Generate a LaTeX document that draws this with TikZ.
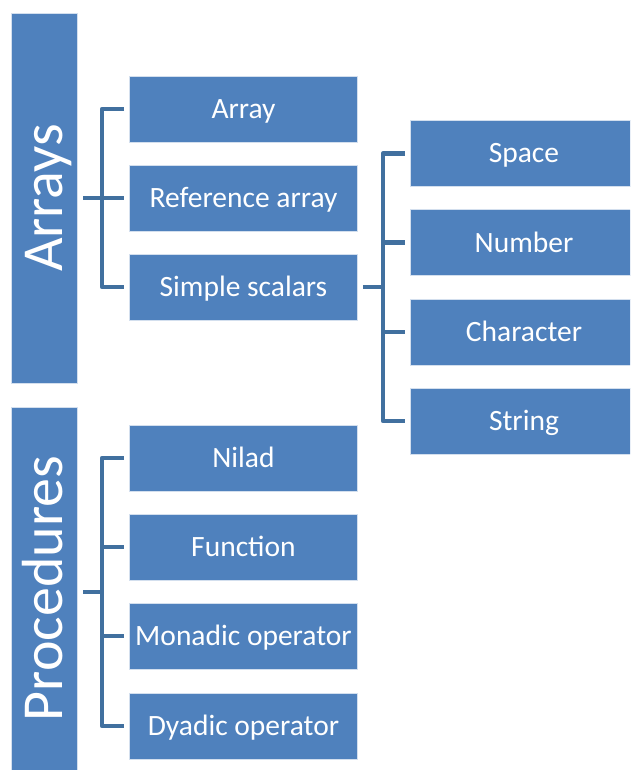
\documentclass[tikz,border=0pt]{standalone}
\usepackage{fontspec}
\setmainfont{Carlito}
\definecolor{boxblue}{HTML}{4F81BD}
\definecolor{linkblue}{HTML}{41709F}
\begin{document}
\begin{tikzpicture}[x=1pt,y=-1pt,
  item/.style={rectangle, fill=boxblue, draw=white!75!boxblue, line width=0.8pt,
    minimum width=228pt, minimum height=66pt, inner sep=0pt, text=white,
    font=\fontsize{29.5}{31}\selectfont, text height=19pt, text depth=0pt},
  group/.style={rectangle, fill=boxblue, draw=white!75!boxblue, line width=0.8pt,
    minimum height=66pt, inner sep=0pt, text=white, rotate=90,
    font=\fontsize{58}{60}\selectfont, text height=37pt, text depth=0pt},
  conn/.style={draw=linkblue, line width=4.5pt, line join=round}]
\useasboundingbox (0,0) rectangle (630,770);
\clip (0,0) rectangle (630,770);

% category panels
\node[group, minimum width=370pt] (arrays) at (44,198) {Arrays};
\node[group, minimum width=363pt] (procs) at (44,588.5) {Procedures};

% array kinds
\node[item] (arr)  at (243.5,109) {Array};
\node[item] (ref)  at (243.5,198) {Reference array};
\node[item] (simp) at (243.5,287) {Simple scalars};

% scalar kinds
\node[item] (space) at (524,153.5) {Space};
\node[item] (num)   at (524,242.5) {Number};
\node[item] (chr)   at (524,332)   {Character};
\node[item] (str)   at (524,421)   {String};

% procedure kinds
\node[item] (nilad) at (243.5,458) {Nilad};
\node[item] (fn)    at (243.5,547) {Function};
\node[item] (mop)   at (243.5,636) {Monadic operator};
\node[item] (dop)   at (243.5,726) {Dyadic operator};

% bus positions
\coordinate (busA) at (102,198);
\coordinate (busS) at (383,287);
\coordinate (busP) at (102,592);

% Arrays bracket
\draw[conn] ([xshift=-5pt]arr.west) -- (arr.west -| busA) -- (simp.west -| busA) -- ([xshift=-5pt]simp.west);
\draw[conn] ([xshift=6pt]arrays.south |- busA) -- ([xshift=-5pt]ref.west);

% Simple scalars bracket
\draw[conn] ([xshift=-5pt]space.west) -- (space.west -| busS) -- (str.west -| busS) -- ([xshift=-5pt]str.west);
\draw[conn] (num.west -| busS) -- ([xshift=-5pt]num.west);
\draw[conn] (chr.west -| busS) -- ([xshift=-5pt]chr.west);
\draw[conn] ([xshift=5pt]simp.east) -- (busS);

% Procedures bracket
\draw[conn] ([xshift=-5pt]nilad.west) -- (nilad.west -| busP) -- (dop.west -| busP) -- ([xshift=-5pt]dop.west);
\draw[conn] (fn.west -| busP) -- ([xshift=-5pt]fn.west);
\draw[conn] (mop.west -| busP) -- ([xshift=-5pt]mop.west);
\draw[conn] ([xshift=6pt]procs.south |- busP) -- (busP);
\end{tikzpicture}
\end{document}
